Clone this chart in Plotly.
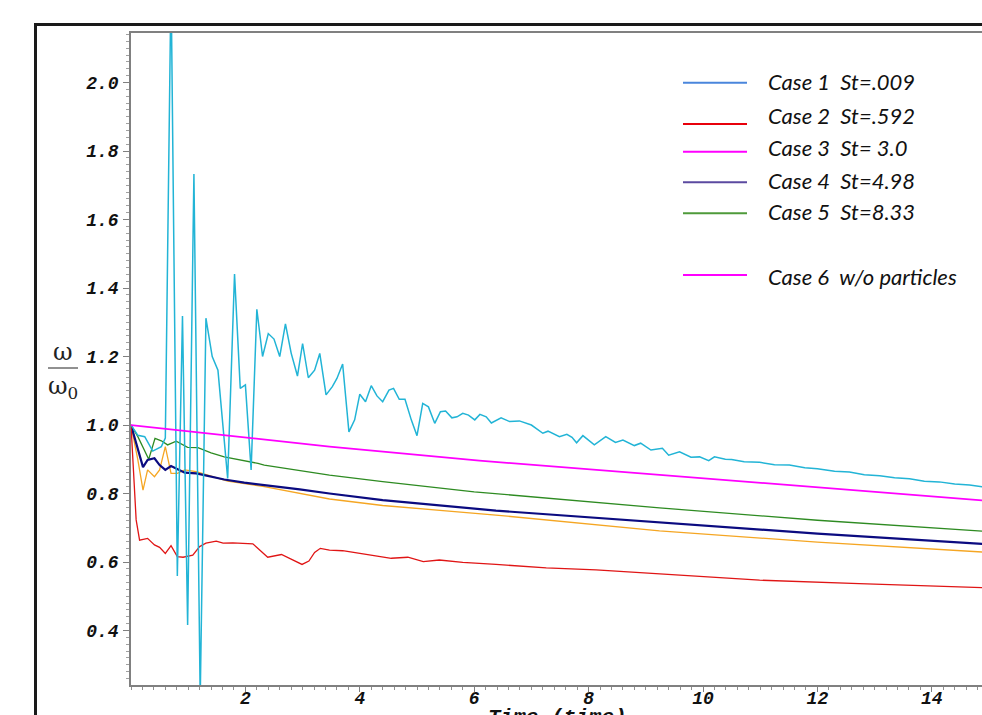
import plotly.graph_objects as go

# ---------------- data ----------------
case1_t = [0, 0.12, 0.24, 0.38, 0.53, 0.60, 0.70, 0.81, 0.90, 0.99, 1.10, 1.21, 1.31, 1.42, 1.52,
           1.69, 1.81, 1.91, 2.00, 2.10, 2.20, 2.30, 2.40, 2.50, 2.60, 2.70, 2.80, 2.91, 3.00, 3.10,
           3.21, 3.30, 3.41, 3.52, 3.60, 3.70, 3.81, 3.91, 4.00, 4.10, 4.20, 4.30, 4.40, 4.51, 4.59,
           4.69, 4.79, 4.90, 5.00, 5.10, 5.20, 5.31, 5.41, 5.50, 5.61, 5.70, 5.80, 5.90, 6.01, 6.10,
           6.21, 6.30, 6.47, 6.62, 6.79, 7.00, 7.20, 7.29, 7.49, 7.62, 7.71, 7.79, 7.90, 8.10, 8.30,
           8.47, 8.60, 8.80, 8.91, 9.09, 9.29, 9.40, 9.59, 9.79, 9.94, 10.10, 10.20, 10.39, 10.50,
           10.72, 10.99, 11.25, 11.51, 11.78, 12.00, 12.30, 12.56, 12.82, 13.09, 13.35, 13.61,
           13.87, 14.13, 14.40, 14.66, 14.90]
case1_w = [1.0, 0.97, 0.966, 0.924, 0.937, 0.962, 2.30, 0.559, 1.318, 0.416, 1.733, 0.20, 1.312, 1.20, 1.16,
           0.844, 1.441, 1.107, 1.117, 0.869, 1.338, 1.20, 1.267, 1.251, 1.20, 1.295, 1.21, 1.143, 1.238, 1.138,
           1.16, 1.209, 1.088, 1.112, 1.136, 1.178, 0.980, 1.015, 1.090, 1.068, 1.115, 1.085, 1.068, 1.102, 1.107,
           1.075, 1.075, 1.015, 0.969, 1.063, 1.053, 1.005, 1.039, 1.041, 1.021, 1.024, 1.034, 1.029, 1.015, 1.031,
           1.024, 1.006, 1.021, 1.010, 1.012, 1.000, 0.976, 0.982, 0.966, 0.973, 0.964, 0.948, 0.969, 0.942, 0.966,
           0.949, 0.956, 0.940, 0.947, 0.927, 0.932, 0.912, 0.922, 0.906, 0.907, 0.896, 0.907, 0.900, 0.899,
           0.893, 0.891, 0.884, 0.883, 0.875, 0.872, 0.865, 0.863, 0.855, 0.852, 0.846, 0.843,
           0.836, 0.834, 0.828, 0.825, 0.819]

case2_t = [0, 0.05, 0.09, 0.15, 0.29, 0.41, 0.50, 0.60, 0.70, 0.81, 0.91, 1.08, 1.20, 1.31, 1.49,
           1.61, 1.78, 2.13, 2.28, 2.39, 2.63, 2.83, 2.99, 3.11, 3.21, 3.31, 3.47, 3.70, 4.23, 4.55,
           4.84, 5.11, 5.39, 5.80, 6.38, 7.26, 8.13, 9.24, 10.99, 12.73, 14.90]
case2_w = [1.0, 0.83, 0.723, 0.664, 0.669, 0.650, 0.643, 0.625, 0.648, 0.616, 0.614, 0.620, 0.645, 0.655, 0.661,
           0.655, 0.656, 0.653, 0.630, 0.614, 0.622, 0.606, 0.593, 0.603, 0.628, 0.640, 0.635, 0.633, 0.618, 0.611,
           0.614, 0.601, 0.606, 0.599, 0.593, 0.583, 0.577, 0.566, 0.547, 0.537, 0.525]

case3_t = [0, 0.12, 0.21, 0.29, 0.41, 0.50, 0.60, 0.70, 0.81, 0.94, 1.14, 1.40, 1.69, 2.33, 2.95,
           3.47, 4.40, 6.38, 9.24, 12.00, 14.90]
case3_w = [1.0, 0.898, 0.810, 0.869, 0.849, 0.869, 0.937, 0.859, 0.859, 0.869, 0.864, 0.850, 0.836, 0.820, 0.800,
           0.784, 0.765, 0.737, 0.691, 0.658, 0.629]

case4_t = [0, 0.21, 0.29, 0.41, 0.50, 0.60, 0.70, 0.82, 0.94, 1.14, 1.34, 1.63, 1.98, 2.33, 2.95,
           3.47, 4.40, 6.38, 9.24, 12.00, 14.90]
case4_w = [1.0, 0.877, 0.898, 0.903, 0.883, 0.869, 0.880, 0.871, 0.861, 0.859, 0.851, 0.841, 0.832, 0.825, 0.812,
           0.800, 0.781, 0.750, 0.715, 0.683, 0.653]

case5_t = [0, 0.12, 0.31, 0.42, 0.53, 0.64, 0.79, 0.99, 1.17, 1.40, 1.63, 1.93, 2.22, 2.33, 3.47,
           4.40, 6.00, 9.24, 12.00, 14.90]
case5_w = [1.0, 0.966, 0.900, 0.961, 0.954, 0.942, 0.953, 0.935, 0.934, 0.919, 0.907, 0.898, 0.888, 0.883, 0.854,
           0.835, 0.805, 0.758, 0.722, 0.690]

case6_t = [0, 2.00, 2.95, 3.47, 6.09, 10.06, 14.90]
case6_w = [1.0, 0.963, 0.947, 0.937, 0.896, 0.844, 0.780]

x_tickvals = [2, 4, 6, 8, 10, 12, 14]
y_tickvals = [0.4, 0.6, 0.8, 1.0, 1.2, 1.4, 1.6, 1.8, 2.0]
y_ticktext = ["0.4", "0.6", "0.8", "1.0", "1.2", "1.4", "1.6", "1.8", "2.0"]

legend_labels = ["Case 1\u00a0\u00a0St=.009", "Case 2\u00a0\u00a0St=.592", "Case 3\u00a0\u00a0St=\u00a03.0",
                 "Case 4\u00a0\u00a0St=4.98", "Case 5\u00a0\u00a0St=8.33", "Case 6\u00a0\u00a0w/o particles"]
legend_colors = ["#4a86dc", "#e8000b", "#ff00ff", "#5b4aa0", "#4e9a3a", "#ff00ff"]

# ---------------- figure ----------------
fig = go.Figure()
series = [
    (case5_t, case5_w, "#2e8b22", 1.3),
    (case3_t, case3_w, "#f5a623", 1.3),
    (case4_t, case4_w, "#0b0b80", 2.2),
    (case2_t, case2_w, "#e01515", 1.3),
    (case1_t, case1_w, "#22b4d6", 1.5),
    (case6_t, case6_w, "#ff00ff", 1.8),
]
for t, w, c, lw in series:
    fig.add_trace(go.Scatter(x=t, y=w, mode="lines", line=dict(color=c, width=lw),
                             showlegend=False, hoverinfo="skip"))

W, H = 982, 715
L, T, B = 131, 33, 30
PW, PH = W - L, H - T - B


def px(x):
    return (x - L) / PW


def py(y):
    return (H - B - y) / PH


tickfont = dict(family="Liberation Mono", size=18, color="#111", weight="bold", style="italic")

fig.update_layout(
    width=W, height=H,
    margin=dict(l=L, r=0, t=T, b=B),
    paper_bgcolor="white", plot_bgcolor="white",
    xaxis=dict(range=[0, PW / 57.2], tickvals=x_tickvals, ticks="outside", ticklen=5,
               tickcolor="#808080", showline=True, linecolor="#808080", linewidth=1.5, mirror=True,
               showgrid=False, zeroline=False, tickfont=tickfont, ticklabelstandoff=-9,
               minor=dict(ticks="outside", ticklen=3, dtick=0.2, tickcolor="#909090")),
    yaxis=dict(range=[0.241, 2.1445], tickvals=y_tickvals, ticktext=y_ticktext, ticks="outside",
               ticklen=6, tickcolor="#808080", showline=True, linecolor="#808080", linewidth=1.5,
               showgrid=False, zeroline=False, tickfont=tickfont, ticklabelstandoff=1,
               minor=dict(ticks="outside", ticklen=3, dtick=0.02, tickcolor="#a0a0a0")),
)

shapes = []
annotations = []
# outer black frame (cropped at right and bottom)
shapes.append(dict(type="path", xref="paper", yref="paper",
                   path=f"M {px(35.5)} {py(730)} L {px(35.5)} {py(24.5)} L {px(1000)} {py(24.5)}",
                   line=dict(color="#1a1a1a", width=3)))

# legend
line_y = [82.7, 124, 151.7, 182.3, 213.3, 275]
text_y = [81.7, 115, 147, 180, 211.7, 276.7]
for lab, col, ly, ty in zip(legend_labels, legend_colors, line_y, text_y):
    shapes.append(dict(type="line", xref="paper", yref="paper", x0=px(683), x1=px(747),
                       y0=py(ly), y1=py(ly), line=dict(color=col, width=2)))
    annotations.append(dict(xref="paper", yref="paper", x=px(766), y=py(ty), text=lab,
                            showarrow=False, xanchor="left", yanchor="middle",
                            font=dict(family="Lato", size=22, color="#111", style="italic")))

# y-axis label as a fraction
annotations.append(dict(xref="paper", yref="paper", x=px(63), y=py(352), text="ω", showarrow=False,
                        xanchor="center", yanchor="middle",
                        font=dict(family="DejaVu Serif", size=24, color="#222")))
shapes.append(dict(type="line", xref="paper", yref="paper", x0=px(48), x1=px(78), y0=py(368), y1=py(368),
                   line=dict(color="#222", width=1)))
annotations.append(dict(xref="paper", yref="paper", x=px(63), y=py(387), text="ω<sub>0</sub>",
                        showarrow=False, xanchor="center", yanchor="middle",
                        font=dict(family="DejaVu Serif", size=24, color="#222")))

# x-axis title (cropped by the bottom edge)
annotations.append(dict(xref="paper", yref="paper", x=px(557), y=py(704), text="Time (time)",
                        showarrow=False, xanchor="center", yanchor="top",
                        font=dict(family="Liberation Mono", size=21, color="#111", weight="bold",
                                  style="italic")))

fig.update_layout(shapes=shapes, annotations=annotations)
fig.write_html("out.html", config={"displayModeBar": False},
               post_script="document.body.style.margin='0';document.body.style.padding='0';"
                           "document.body.style.overflow='hidden';")
